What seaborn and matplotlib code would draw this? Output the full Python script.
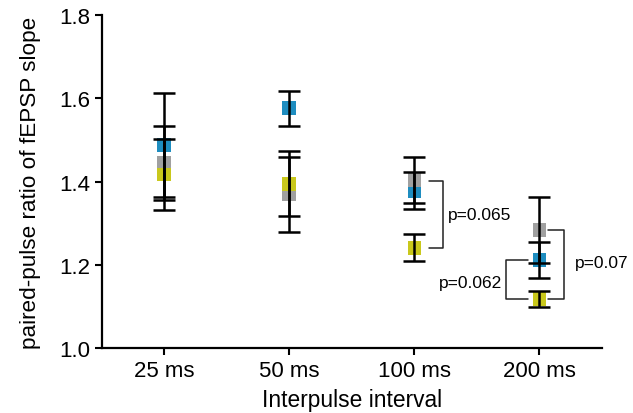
import pandas as pd
import matplotlib
matplotlib.use("Agg")
import matplotlib.pyplot as plt
import seaborn as sns

intervals = ["25 ms", "50 ms", "100 ms", "200 ms"]
groups = ["blue", "gray", "yellow"]

mean_blue = [1.487, 1.576, 1.378, 1.212]
sem_blue = [0.125, 0.042, 0.044, 0.043]
mean_gray = [1.444, 1.369, 1.404, 1.283]
sem_gray = [0.089, 0.091, 0.056, 0.079]
mean_yellow = [1.417, 1.395, 1.241, 1.118]
sem_yellow = [0.085, 0.078, 0.032, 0.020]

p_labels = ["p=0.065", "p=0.062", "p=0.07"]

colors = {"blue": "#1e8dc0", "gray": "#a0a0a0", "yellow": "#c9c81c"}

df = pd.DataFrame({
    "interval": intervals * 3,
    "group": [g for g in groups for _ in intervals],
    "ratio": mean_blue + mean_gray + mean_yellow,
    "err": sem_blue + sem_gray + sem_yellow,
})

sns.set_style("ticks", {"text.color": "black", "axes.labelcolor": "black",
                        "xtick.color": "black", "ytick.color": "black"})
plt.rcParams["font.family"] = ["Liberation Sans", "DejaVu Sans"]

fig = plt.figure(figsize=(6.33, 4.14), dpi=100)
ax = fig.add_axes([0.161, 0.157, 0.79, 0.804])

sns.scatterplot(data=df, x="interval", y="ratio", hue="group", palette=colors,
                marker="s", s=100, linewidth=0, legend=False, ax=ax, zorder=2)

for g in groups:
    d = df[df.group == g]
    ax.errorbar(range(len(intervals)), d["ratio"], yerr=d["err"], fmt="none",
                ecolor="black", elinewidth=1.8, capsize=8, capthick=1.8,
                zorder=3)

# significance brackets
lw = 1.1
bc = "#222222"
fs_p = 12.5
# 100 ms: gray vs yellow
x0, x1 = 2.12, 2.23
y0, y1 = mean_gray[2] - 0.003, mean_yellow[2]
ax.plot([x0, x1, x1, x0], [y0, y0, y1, y1], color=bc, lw=lw)
ax.text(x1 + 0.04, (y0 + y1) / 2, p_labels[0], fontsize=fs_p, va="center", ha="left")
# 200 ms: blue vs yellow (left)
x0, x1 = 2.905, 2.73
y0, y1 = mean_blue[3], mean_yellow[3]
ax.plot([x0, x1, x1, x0], [y0, y0, y1, y1], color=bc, lw=lw)
ax.text(x1 - 0.03, (y0 + y1) / 2 - 0.008, p_labels[1], fontsize=fs_p, va="center", ha="right")
# 200 ms: gray vs yellow (right)
x0, x1 = 3.065, 3.2
y0, y1 = mean_gray[3], mean_yellow[3]
ax.plot([x0, x1, x1, x0], [y0, y0, y1, y1], color=bc, lw=lw)
ax.text(x1 + 0.08, (y0 + y1) / 2 + 0.005, p_labels[2], fontsize=fs_p, va="center", ha="left")

ax.set_xlim(-0.5, 3.5)
ax.set_ylim(1.0, 1.8)
ax.set_yticks([1.0, 1.2, 1.4, 1.6, 1.8])
ax.set_xlabel("Interpulse interval", fontsize=16.4, labelpad=5)
ax.set_ylabel("paired-pulse ratio of fEPSP slope", fontsize=16.2, labelpad=13)
ax.tick_params(axis="both", labelsize=16, width=1.5, length=5, color="black")
for s in ["left", "bottom"]:
    ax.spines[s].set_linewidth(1.6)
    ax.spines[s].set_color("black")
sns.despine(ax=ax)

fig.savefig("out.png", dpi=100)
